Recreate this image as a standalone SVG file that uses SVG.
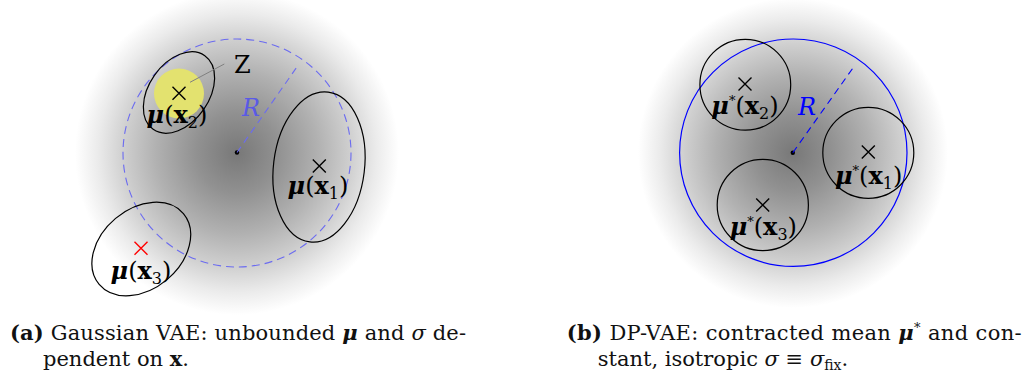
<svg xmlns="http://www.w3.org/2000/svg" width="1029" height="379" viewBox="0 0 1029 379">
  <style>
    .math { font-family: "DejaVu Serif", "Liberation Serif", serif; font-size: 24px; fill: #000; }
    .mu { font-weight: bold; font-style: italic; }
    .bx { font-weight: bold; }
    .sub { font-size: 16px; }
    .star { font-size: 13px; fill: #000; }
    .cap { font-family: "DejaVu Serif", "Liberation Serif", serif; font-size: 21px; fill: #111; }
    .node { fill: none; stroke: #000; stroke-width: 1.2; }
    .cross { fill: none; stroke: #000; stroke-width: 1.4; }
    .crossred { fill: none; stroke: #ff0000; stroke-width: 1.4; }
  </style>
  <defs>
    <radialGradient id="cloud" cx="0.5" cy="0.5" r="0.5">
      <stop offset="0" stop-color="#787878"/>
      <stop offset="0.25" stop-color="#919191"/>
      <stop offset="0.5" stop-color="#b1b1b1"/>
      <stop offset="0.7" stop-color="#cfcfcf"/>
      <stop offset="0.86" stop-color="#ebebeb"/>
      <stop offset="1" stop-color="#ffffff"/>
    </radialGradient>
    <path id="x" d="M-6.5,-6.5L6.5,6.5M-6.5,6.5L6.5,-6.5"/>
  </defs>
  <rect width="1029" height="379" fill="#fff"/>

  <!-- Panel (a) -->
  <g id="panel-a">
    <circle id="a-cloud" cx="237" cy="153" r="162" fill="url(#cloud)"/>
    <circle id="a-bound" cx="237" cy="153" r="114" fill="none" stroke="#6b6bf0" stroke-width="1.1" stroke-dasharray="8,5"/>
    <circle id="a-center" cx="237" cy="152.5" r="2.2" fill="#000"/>
    <text x="242" y="116" font-family="DejaVu Serif, Liberation Serif, serif" font-size="24" font-style="italic" fill="#5a5ae6">R</text>
    <g id="a-x2">
      <circle cx="179" cy="93.5" r="25" fill="#e3e26f"/>
      <ellipse cx="179" cy="92.5" rx="45" ry="30" transform="rotate(-55 179 92.5)" class="node"/>
      <use href="#x" x="179" y="93.3" class="cross"/>
      <text class="math" x="177" y="123" text-anchor="middle"><tspan class="mu">μ</tspan>(<tspan class="bx">x</tspan><tspan class="sub" dy="5">2</tspan><tspan dy="-5">)</tspan></text>
    </g>
    <g id="a-x1">
      <ellipse cx="319" cy="167" rx="45.5" ry="75.5" transform="rotate(7 319 167)" class="node"/>
      <use href="#x" x="319.3" y="166" class="cross"/>
      <text class="math" x="318" y="194" text-anchor="middle"><tspan class="mu">μ</tspan>(<tspan class="bx">x</tspan><tspan class="sub" dy="5">1</tspan><tspan dy="-5">)</tspan></text>
    </g>
    <g id="a-x3">
      <ellipse cx="141.3" cy="249" rx="55" ry="40" transform="rotate(-40 141.3 249)" class="node"/>
      <use href="#x" x="141" y="248.3" class="crossred"/>
      <text class="math" x="141" y="278.5" text-anchor="middle"><tspan class="mu">μ</tspan>(<tspan class="bx">x</tspan><tspan class="sub" dy="5">3</tspan><tspan dy="-5">)</tspan></text>
    </g>
    <text id="a-z" x="234" y="73" font-family="DejaVu Serif, Liberation Serif, serif" font-size="24" fill="#000">Z</text>
  </g>

  <!-- Panel (b) -->
  <g id="panel-b">
    <circle id="b-cloud" cx="793" cy="153" r="155" fill="url(#cloud)"/>
    <circle id="b-bound" cx="793.3" cy="152.7" r="113.7" fill="none" stroke="#0000ff" stroke-width="1.2"/>
    <circle id="b-center" cx="792.8" cy="152.7" r="2.2" fill="#000"/>
    <text x="798" y="115" font-family="DejaVu Serif, Liberation Serif, serif" font-size="24" font-style="italic" fill="#0000ff">R</text>
    <g id="b-x2">
      <circle cx="745.3" cy="84.7" r="45.4" class="node"/>
      <use href="#x" x="745" y="84" class="cross"/>
      <text class="math" x="745" y="114" text-anchor="middle"><tspan class="mu">μ</tspan><tspan class="star" dy="-9">*</tspan><tspan dy="9">(</tspan><tspan class="bx">x</tspan><tspan class="sub" dy="5">2</tspan><tspan dy="-5">)</tspan></text>
    </g>
    <g id="b-x1">
      <circle cx="868.3" cy="152.8" r="45.5" class="node"/>
      <use href="#x" x="868.3" y="152" class="cross"/>
      <text class="math" x="868.7" y="184" text-anchor="middle"><tspan class="mu">μ</tspan><tspan class="star" dy="-9">*</tspan><tspan dy="9">(</tspan><tspan class="bx">x</tspan><tspan class="sub" dy="5">1</tspan><tspan dy="-5">)</tspan></text>
    </g>
    <g id="b-x3">
      <circle cx="762.8" cy="205" r="45.6" class="node"/>
      <use href="#x" x="762.7" y="205" class="cross"/>
      <text class="math" x="763.3" y="235" text-anchor="middle"><tspan class="mu">μ</tspan><tspan class="star" dy="-9">*</tspan><tspan dy="9">(</tspan><tspan class="bx">x</tspan><tspan class="sub" dy="5">3</tspan><tspan dy="-5">)</tspan></text>
    </g>
  </g>

  <!-- connectors -->
  <g id="connectors" fill="none">
    <line id="a-radius" x1="237" y1="152.5" x2="298.3" y2="65" stroke="#6b6bf0" stroke-width="1.1" stroke-dasharray="7,5"/>
    <line id="z-pointer" x1="190" y1="82.3" x2="224.3" y2="64" stroke="#808080" stroke-width="1"/>
    <line id="b-radius" x1="792.8" y1="152.7" x2="852.7" y2="68.3" stroke="#0000ff" stroke-width="1.1" stroke-dasharray="7,5"/>
  </g>

  <!-- captions -->
  <g id="caption-a" class="cap">
    <text x="10" y="340" textLength="456" lengthAdjust="spacing"><tspan font-weight="bold">(a)</tspan> Gaussian VAE: unbounded <tspan font-weight="bold" font-style="italic">μ</tspan> and <tspan font-style="italic">σ</tspan> de-</text>
    <text x="43" y="366">pendent on <tspan font-weight="bold">x</tspan>.</text>
  </g>
  <g id="caption-b" class="cap">
    <text x="566.7" y="340" textLength="455" lengthAdjust="spacing"><tspan font-weight="bold">(b)</tspan> DP-VAE: contracted mean <tspan font-weight="bold" font-style="italic">μ</tspan><tspan font-size="13" dy="-8">*</tspan><tspan dy="8"> and con-</tspan></text>
    <text x="597.7" y="366">stant, isotropic <tspan font-style="italic">σ</tspan> ≡ <tspan font-style="italic">σ</tspan><tspan font-size="14" dy="4">fix</tspan><tspan dy="-4">.</tspan></text>
  </g>
</svg>
